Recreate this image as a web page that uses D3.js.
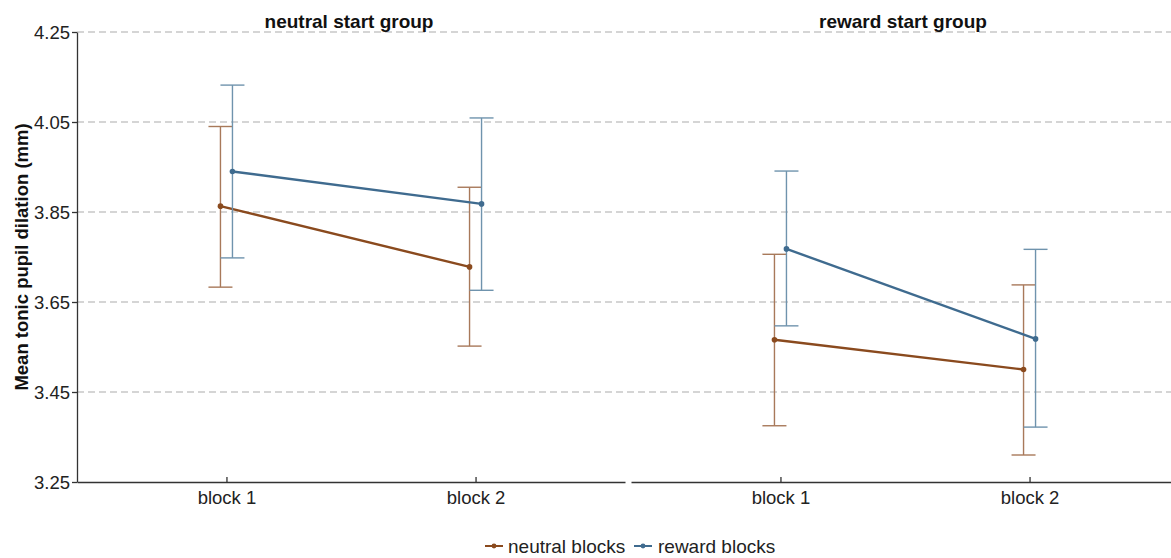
<!DOCTYPE html>
<html>
<head>
<meta charset="utf-8">
<script src="https://cdn.jsdelivr.net/npm/d3@7"></script>
<style>
  html, body { margin: 0; padding: 0; background: #fff; }
  svg { display: block; font-family: "Liberation Sans", Arial, sans-serif; }
</style>
</head>
<body>
<svg id="chart" width="1171" height="558"></svg>
<script>
// Facets, categories and series
const groups = ["neutral start group", "reward start group"];
const blocks = ["block 1", "block 2"];
const seriesNames = ["neutral blocks", "reward blocks"];
const yTicks = [3.25, 3.45, 3.65, 3.85, 4.05, 4.25];

// Means and error-bar limits, per group: [block 1, block 2]
const neutralMean  = [[3.863, 3.728], [3.566, 3.500]];
const neutralLow   = [[3.683, 3.552], [3.375, 3.310]];
const neutralHigh  = [[4.040, 3.905], [3.756, 3.688]];
const rewardMean   = [[3.940, 3.868], [3.768, 3.568]];
const rewardLow    = [[3.748, 3.676], [3.597, 3.372]];
const rewardHigh   = [[4.132, 4.059], [3.941, 3.767]];

const lineColors = ["#8a4a1e", "#3f6b8f"];
const barColors  = ["#a8795a", "#6f93ad"];

const svg = d3.select("#chart");
const plotTop = 32, plotBottom = 482;
const panelW = 548;
const panelLeft = [77, 631];

const y = d3.scaleLinear().domain([3.25, 4.25]).range([plotBottom, plotTop]);

const means = [neutralMean, rewardMean];
const lows = [neutralLow, rewardLow];
const highs = [neutralHigh, rewardHigh];

// dashed horizontal grid across the full width
svg.append("g").selectAll("line")
  .data(yTicks.slice(1))
  .join("line")
  .attr("x1", 77).attr("x2", 1171)
  .attr("y1", d => y(d)).attr("y2", d => y(d))
  .attr("stroke", "#c8c8c8").attr("stroke-width", 1.3)
  .attr("stroke-dasharray", "7,4");

// y axis
const yAxis = d3.axisLeft(y).tickValues(yTicks).tickFormat(d3.format(".2f")).tickSize(5).tickSizeOuter(0);
const ya = svg.append("g").attr("transform", "translate(77,0)").call(yAxis);
ya.select(".domain").attr("stroke", "#333").attr("stroke-width", 1.3);
ya.selectAll(".tick line").attr("stroke", "#333").attr("stroke-width", 1.3);
ya.selectAll(".tick text").attr("fill", "#222").attr("font-size", 18.5).attr("x", -7).attr("dy", "0.35em");

svg.append("text")
  .attr("transform", `translate(28,${(plotTop + plotBottom) / 2}) rotate(-90)`)
  .attr("text-anchor", "middle")
  .attr("font-size", 18.5).attr("font-weight", "bold").attr("fill", "#111")
  .text("Mean tonic pupil dilation (mm)");

const dodge = 6;
const cap = 12;

groups.forEach((g, gi) => {
  const L = panelLeft[gi];
  const x = d3.scalePoint().domain(blocks).range([L, L + panelW]).padding(0.6);

  const xa = svg.append("g").attr("transform", `translate(0,${plotBottom})`)
    .call(d3.axisBottom(x).tickSize(5).tickSizeOuter(0));
  xa.select(".domain").attr("stroke", "#333").attr("stroke-width", 1.3);
  xa.selectAll(".tick line").attr("stroke", "#333").attr("stroke-width", 1.3).attr("y1", -5).attr("y2", 0);
  xa.selectAll(".tick text").attr("fill", "#222").attr("font-size", 18.5).attr("y", 9).attr("dy", "0.71em");

  svg.append("text")
    .attr("x", L + panelW / 2 - 2).attr("y", 28)
    .attr("text-anchor", "middle")
    .attr("font-size", 19).attr("font-weight", "bold").attr("fill", "#111")
    .text(g);

  seriesNames.forEach((s, si) => {
    const off = si === 0 ? -dodge : dodge;
    const pts = blocks.map((b, bi) => ({
      x: x(b) + off,
      m: means[si][gi][bi], lo: lows[si][gi][bi], hi: highs[si][gi][bi]
    }));
    const eb = svg.append("g");
    pts.forEach(p => {
      eb.append("line").attr("x1", p.x).attr("x2", p.x).attr("y1", y(p.lo)).attr("y2", y(p.hi))
        .attr("stroke", barColors[si]).attr("stroke-width", 1.4);
      eb.append("line").attr("x1", p.x - cap).attr("x2", p.x + cap).attr("y1", y(p.lo)).attr("y2", y(p.lo))
        .attr("stroke", barColors[si]).attr("stroke-width", 1.4);
      eb.append("line").attr("x1", p.x - cap).attr("x2", p.x + cap).attr("y1", y(p.hi)).attr("y2", y(p.hi))
        .attr("stroke", barColors[si]).attr("stroke-width", 1.4);
    });
    svg.append("path")
      .datum(pts)
      .attr("d", d3.line().x(d => d.x).y(d => y(d.m)))
      .attr("fill", "none").attr("stroke", lineColors[si]).attr("stroke-width", 2.4);
    svg.append("g").selectAll("circle").data(pts).join("circle")
      .attr("cx", d => d.x).attr("cy", d => y(d.m)).attr("r", 2.8)
      .attr("fill", lineColors[si]);
  });
});

// legend
const legend = svg.append("g");
const legendItems = [{ x: 485, tx: 508 }, { x: 634, tx: 658 }];
seriesNames.forEach((s, si) => {
  const it = legendItems[si];
  legend.append("line").attr("x1", it.x).attr("x2", it.x + 18).attr("y1", 546).attr("y2", 546)
    .attr("stroke", lineColors[si]).attr("stroke-width", 2);
  legend.append("circle").attr("cx", it.x + 9).attr("cy", 546).attr("r", 2.4).attr("fill", lineColors[si]);
  legend.append("text").attr("x", it.tx).attr("y", 553).attr("font-size", 19).attr("fill", "#222").text(s);
});
</script>
</body>
</html>
